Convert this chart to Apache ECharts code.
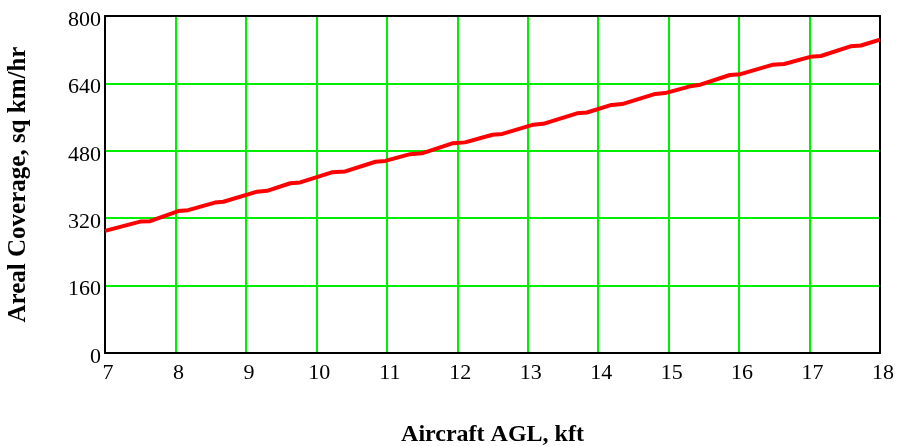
<!DOCTYPE html>
<html>
<head>
<meta charset="utf-8">
<script src="https://cdn.jsdelivr.net/npm/echarts@6/dist/echarts.min.js"></script>
<style>
html,body{margin:0;padding:0;background:#fff;}
#chart{width:901px;height:446px;}
</style>
</head>
<body>
<div id="chart"></div>
<script>
// Aircraft AGL (kft)
var altitudeKft = [7.00, 7.50, 7.64, 8.04, 8.18, 8.56, 8.68, 9.16, 9.30, 9.63, 9.77,
  10.22, 10.41, 10.84, 10.98, 11.33, 11.50, 11.94, 12.11, 12.50, 12.64,
  13.08, 13.22, 13.70, 13.84, 14.19, 14.34, 14.81, 14.95, 15.33, 15.45,
  15.87, 16.02, 16.47, 16.64, 17.01, 17.16, 17.58, 17.73, 18.00];
// Areal coverage (sq km/hr)
var coverage = [290, 312, 313, 337, 339, 357, 359, 383, 385, 403, 405,
  429, 431, 454, 456, 472, 474, 498, 500, 518, 520,
  542, 544, 569, 571, 589, 591, 615, 617, 634, 637,
  660, 662, 684, 686, 703, 705, 728, 730, 744];
var xTicks = {min: 7, max: 18, interval: 1};
var yTicks = {min: 0, max: 800, interval: 160};
var xTitle = 'Aircraft AGL, kft';
var yTitle = 'Areal Coverage, sq km/hr';

var points = altitudeKft.map(function (x, i) { return [x, coverage[i]]; });
var FONT = '"Liberation Serif", "Times New Roman", serif';
var GREEN = '#00ee00';

var chart = echarts.init(document.getElementById('chart'), null, {renderer: 'canvas'});
chart.setOption({
  animation: false,
  backgroundColor: '#ffffff',
  grid: {left: 105, right: 21, top: 16, bottom: 93, containLabel: false, outerBoundsMode: 'none'},
  xAxis: [{
    type: 'value', min: xTicks.min, max: xTicks.max, interval: xTicks.interval,
    name: xTitle, nameLocation: 'middle', nameGap: 70,
    nameTextStyle: {fontFamily: FONT, fontWeight: 'bold', fontSize: 24, color: '#000'},
    axisLine: {show: true, onZero: false, lineStyle: {color: '#000', width: 2}},
    axisTick: {show: false},
    axisLabel: {
      formatter: '{a|{value}}',
      rich: {a: {fontFamily: FONT, fontSize: 22, color: '#000', padding: [0, 0, 0, 6]}},
      margin: 9
    },
    splitLine: {show: true, lineStyle: {color: GREEN, width: 2}}
  }, {
    type: 'value', position: 'top', min: xTicks.min, max: xTicks.max, interval: xTicks.interval,
    axisLine: {show: true, onZero: false, lineStyle: {color: '#000', width: 2}},
    axisTick: {show: false}, axisLabel: {show: false}, splitLine: {show: false}
  }],
  yAxis: [{
    type: 'value', min: yTicks.min, max: yTicks.max, interval: yTicks.interval,
    name: yTitle, nameLocation: 'middle', nameGap: 74,
    nameTextStyle: {fontFamily: FONT, fontWeight: 'bold', fontSize: 25, color: '#000'},
    axisLine: {show: true, onZero: false, lineStyle: {color: '#000', width: 2}},
    axisTick: {show: false},
    axisLabel: {
      formatter: '{a|{value}}',
      rich: {a: {fontFamily: FONT, fontSize: 22, color: '#000', padding: [8, 0, 0, 0]}},
      margin: 4
    },
    splitLine: {show: true, lineStyle: {color: GREEN, width: 2}}
  }, {
    type: 'value', position: 'right', min: yTicks.min, max: yTicks.max, interval: yTicks.interval,
    axisLine: {show: true, onZero: false, lineStyle: {color: '#000', width: 2}},
    axisTick: {show: false}, axisLabel: {show: false}, splitLine: {show: false}
  }],
  series: [{
    type: 'line',
    data: points,
    showSymbol: false,
    smooth: false,
    lineStyle: {color: '#ff0000', width: 4},
    z: 3
  }]
});
</script>
</body>
</html>
